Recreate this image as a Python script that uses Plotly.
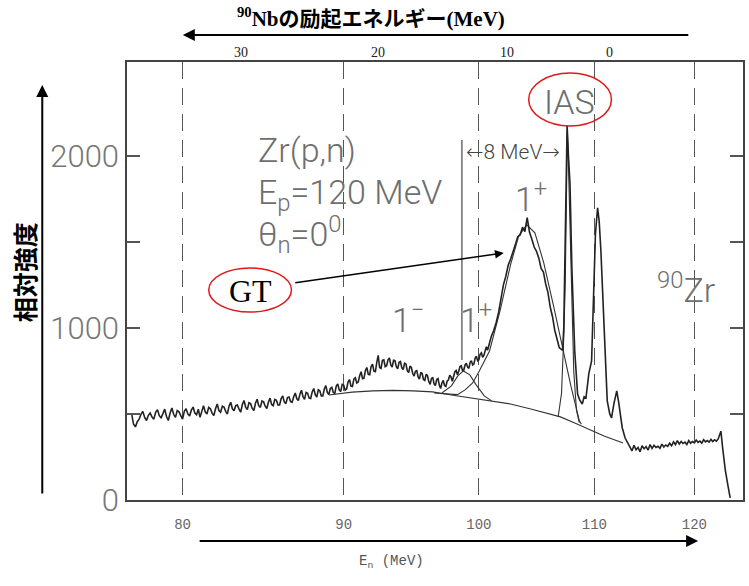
import numpy as np
import plotly.graph_objects as go

# ---------------- data ----------------
M_N = 939.565  # neutron mass (MeV) -> x axis is linear in neutron time of flight

# measured spectrum, 0.1 MeV channels from 77.0 to 100.9 MeV
SPEC_LOW_EN = np.round(np.arange(77.0, 100.91, 0.1), 2)
SPEC_LOW_I = [
    500, 500, 500, 440, 425, 455, 470, 498, 515, 480, 462, 492, 505, 482, 470, 510, 525, 490, 478, 502,
    528, 485, 462, 505, 535, 498, 480, 520, 512, 490, 470, 515, 530, 500, 488, 522, 540, 505, 495, 528,
    480, 515, 548, 512, 500, 538, 530, 505, 490, 530, 558, 520, 510, 545, 540, 515, 500, 545, 568, 530,
    518, 548, 552, 528, 510, 555, 578, 540, 525, 565, 560, 532, 520, 562, 585, 548, 538, 575, 570, 545,
    532, 568, 592, 555, 548, 585, 580, 552, 552, 590, 605, 570, 560, 595, 598, 572, 568, 600, 622, 588,
    578, 615, 638, 600, 585, 625, 620, 592, 590, 628, 648, 612, 598, 640, 635, 605, 605, 645, 665, 625,
    612, 648, 655, 625, 620, 662, 675, 640, 630, 672, 668, 638, 645, 685, 700, 662, 660, 702, 710, 680,
    685, 722, 745, 705, 708, 752, 770, 730, 728, 775, 790, 748, 745, 800, 840, 770, 765, 812, 815, 775,
    780, 815, 825, 785, 772, 812, 810, 775, 762, 800, 805, 768, 758, 795, 790, 752, 740, 778, 770, 735,
    720, 748, 752, 715, 702, 742, 735, 700, 695, 730, 722, 688, 672, 705, 712, 675, 665, 700, 705, 668,
    648, 680, 695, 665, 660, 690, 698, 725, 715, 690, 712, 745, 752, 728, 748, 775, 780, 752, 755, 785,
    795, 772, 765, 800, 810, 785, 790, 825, 835, 810, 815, 848, 855, 830, 840, 875, 890, 870, 900, 925,
]
# GT peak, 0.2 MeV channels from 101.0 to 106.8 MeV
SPEC_GT_EN = np.round(np.arange(101.0, 106.81, 0.2), 2)
SPEC_GT_I = [
    950, 985, 1030, 1090, 1170, 1250, 1300, 1365, 1400, 1450,
    1485, 1530, 1540, 1585, 1560, 1640, 1555, 1515, 1470, 1445,
    1405, 1345, 1325, 1255, 1205, 1120, 1065, 985, 940, 885,
]
# IAS and neighbouring peaks
SPEC_MID_EN = [107.0, 107.1, 107.2, 107.33, 107.5, 107.62, 107.76, 107.93, 108.19,
               108.45, 108.65, 108.88, 109.05, 109.22, 109.48, 109.74, 109.91, 110.1,
               110.3, 110.45, 110.61, 110.91, 111.21, 111.45, 111.62, 111.85, 112.12,
               112.3, 112.42, 112.65, 112.93, 113.2, 113.43]
SPEC_MID_I = [875, 870, 1000, 1547, 2175, 2000, 1837, 1349, 866,
              616, 580, 558, 600, 593, 733, 808, 1157, 1547,
              1698, 1620, 1448, 965, 576, 500, 477, 560, 634,
              570, 517, 420, 360, 330, 302]
# flat high-energy part (0.2 MeV channels from 113.6 to 122.6 MeV)
SPEC_HIGH_EN = np.round(np.arange(113.6, 122.61, 0.2), 2)
SPEC_HIGH_I = [
    285, 318, 292, 305, 280, 315, 298, 310, 290, 322,
    300, 318, 305, 312, 300, 325, 308, 320, 312, 330,
    315, 338, 322, 345, 325, 340, 328, 336, 322, 345,
    330, 340, 332, 348, 335, 342, 330, 350, 338, 345,
    336, 352, 340, 350, 342, 355,
]
SPEC_TAIL_EN = [122.9, 123.1, 123.4, 123.7, 123.94]
SPEC_TAIL_I = [400, 300, 170, 80, 12]

# fitted curves
BG_EN = [89.0, 89.57, 90.58, 92.03, 93.48, 94.93, 96.38, 97.83, 99.28, 100.86,
         102.59, 104.31, 105.6, 106.9, 108.19, 109.48, 110.91, 112.73]
BG_I = [610, 616, 627, 634, 637, 634, 628, 610, 593, 576,
        558, 529, 506, 483, 448, 413, 372, 331]
GT_EN = [96.5, 97.5, 98.3, 98.9, 99.5, 100.0, 100.86, 101.72, 102.59, 103.28,
         103.97, 104.66, 105.43, 106.29, 107.16, 107.84, 108.62, 108.8]
GT_I = [622, 615, 612, 640, 680, 745, 866, 1099, 1366, 1535,
        1599, 1552, 1378, 1128, 866, 663, 459, 440]
P1_EN = [97.1, 97.83, 98.33, 98.77, 99.28, 99.78, 100.43, 101.03]
P1_I = [622, 663, 721, 750, 727, 669, 605, 576]
IAS_EN = [106.7, 107.0, 107.2, 107.33, 107.45, 107.52, 107.6, 107.75, 107.9,
          108.1, 108.35, 108.6]
IAS_I = [483, 620, 950, 1250, 1800, 2150, 2000, 1600, 1150, 750, 520, 450]

# axes
X_TICKS = [80, 90, 100, 110, 120]
X_RANGE = [76.95, 125.4]
Y_TICKS = [0, 500, 1000, 1500, 2000]
Y_TICKTEXT = ["0", "", "1000", "", "2000"]
Y_RANGE = [0, 2545]
EX_LABELS = ["30", "20", "10", "0"]          # 90Nb excitation energy
EX_LABEL_EN = [83.4, 92.4, 102.3, 111.4]     # neutron energy where each label sits


def tof(e):
    e = np.asarray(e, dtype=float)
    g = 1.0 + e / M_N
    return 1.0 / np.sqrt(1.0 - 1.0 / g ** 2)


SPEC_EN = np.concatenate([SPEC_LOW_EN, SPEC_GT_EN, SPEC_MID_EN, SPEC_HIGH_EN, SPEC_TAIL_EN])
SPEC_I = np.concatenate([SPEC_LOW_I, SPEC_GT_I, SPEC_MID_I, SPEC_HIGH_I, SPEC_TAIL_I])

# ---------------- layout geometry ----------------
W, H = 749, 586
L, R, T, B = 127, 4, 62, 86
PW, PH = W - L - R, H - T - B


def px(x):
    return (x - L) / PW


def py(y):
    return (H - B - y) / PH


GRAY = "#6e6e6e"
PLOT_FONT = dict(family="Roboto, DejaVu Sans, sans-serif", color=GRAY, weight=300)

fig = go.Figure()
for xs, ys in [(BG_EN, BG_I), (GT_EN, GT_I), (P1_EN, P1_I), (IAS_EN, IAS_I)]:
    fig.add_trace(go.Scatter(x=tof(xs), y=ys, mode="lines",
                             line=dict(color="#333", width=1.1), hoverinfo="skip"))
fig.add_trace(go.Scatter(x=tof(SPEC_EN), y=SPEC_I, mode="lines",
                         line=dict(color="#222", width=1.6), hoverinfo="skip"))

ann = []


def text(x, y, t, font, xref="paper", xanchor="center", **kw):
    ann.append(dict(x=x, y=y, xref=xref, yref="paper", text=t, showarrow=False,
                    xanchor=xanchor, yanchor="middle", font=font, **kw))


def arrow(x, y, ax, ay, width=2.0, size=1.2):
    ann.append(dict(x=x, y=y, xref="paper", yref="paper", text="", showarrow=True,
                    ax=ax, ay=ay, arrowhead=2, arrowsize=size, arrowwidth=width,
                    arrowcolor="#000"))


# top (excitation energy) labels
for lab, e in zip(EX_LABELS, EX_LABEL_EN):
    text(float(tof(e)), py(52), lab, dict(family="Liberation Serif", size=14, color="#222"), xref="x")
# title and arrows
text(px(372), py(18), "<b><sup>90</sup>Nbの励起エネルギー(MeV)</b>",
     dict(family="Liberation Serif, Noto Sans CJK JP", size=21, color="#000"))
arrow(px(183), py(35), 507, 0)
arrow(px(42), py(85), 0, 410)
arrow(px(700), py(541), -500, 0)
text(px(24), py(272), "<b>相対強度</b>", dict(family="Noto Sans CJK JP", size=25, color="#000"),
     textangle=-90)
text(px(392), py(562), "E<sub>n</sub> (MeV)", dict(family="Liberation Mono", size=14, color="#555"))
# in-plot texts
for t, x, y in [("Zr(p,n)", 256, 150), ("E<sub>p</sub>=120 MeV", 256, 194),
                ("θ<sub>n</sub>=0<sup>0</sup>", 256, 234)]:
    text(px(x), py(y), t, dict(PLOT_FONT, size=34), xanchor="left")
for t, x, y in [("1<sup>−</sup>", 409, 318), ("1<sup>+</sup>", 477, 318),
                ("1<sup>+</sup>", 532, 197), ("IAS", 571, 102), ("<sup>90</sup>Zr", 688, 288)]:
    text(px(x), py(y), t, dict(PLOT_FONT, size=34))
text(px(514), py(152), "←8 MeV→", dict(PLOT_FONT, size=21, color="#444"))
text(px(251), py(291), "GT", dict(family="Liberation Serif", size=32, color="#000"))
arrow(px(505), py(253), -210, 30, width=1.6, size=1.1)

shapes = [
    dict(type="circle", xref="paper", yref="paper", x0=px(530), x1=px(613), y0=py(126), y1=py(73),
         line=dict(color="#e01818", width=1.5)),
    dict(type="circle", xref="paper", yref="paper", x0=px(209), x1=px(292), y0=py(312), y1=py(268),
         line=dict(color="#e01818", width=1.5)),
    dict(type="line", xref="paper", yref="paper", x0=px(463), x1=px(463), y0=py(140), y1=py(360),
         line=dict(color="#444", width=1.2)),
]

fig.update_layout(
    width=W, height=H, margin=dict(l=L, r=R, t=T, b=B),
    paper_bgcolor="#ffffff", plot_bgcolor="#ffffff", showlegend=False,
    annotations=ann, shapes=shapes,
    xaxis=dict(range=[float(tof(X_RANGE[0])), float(tof(X_RANGE[1]))],
               tickvals=[float(v) for v in tof(X_TICKS)], ticktext=[str(v) for v in X_TICKS],
               ticks="", showgrid=True, gridcolor="#555", gridwidth=1, griddash="17px,9px",
               showline=True, mirror=True, linecolor="#444", linewidth=1.5, zeroline=False,
               ticklabelstandoff=10,
               tickfont=dict(family="Liberation Mono", size=14, color="#666")),
    yaxis=dict(range=Y_RANGE, tickvals=Y_TICKS, ticktext=Y_TICKTEXT, ticks="inside", ticklen=13,
               tickwidth=1.5, tickcolor="#555", showline=True, mirror="ticks", linecolor="#444",
               linewidth=1.5, showgrid=False, zeroline=False,
               tickfont=dict(family="Roboto, DejaVu Sans", size=31, color="#777", weight=300)),
)

fig.write_html("out.html")
